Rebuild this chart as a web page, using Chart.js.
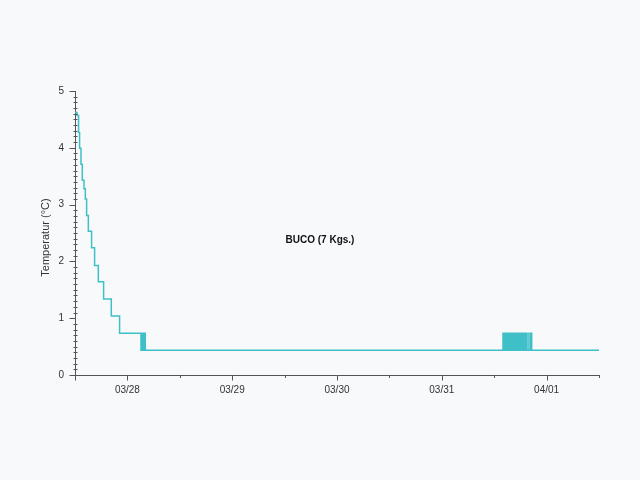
<!DOCTYPE html>
<html><head><meta charset="utf-8">
<script src="https://cdn.jsdelivr.net/npm/chart.js@4/dist/chart.umd.min.js"></script>
<style>html,body{margin:0;padding:0;background:#f8f9fa;}#wrap{width:640px;height:480px;}</style>
</head><body><div id="wrap"><canvas id="c" width="640" height="480"></canvas></div>
<script>
const chartTitle = 'BUCO (7 Kgs.)';
const yAxisTitle = 'Temperatur (°C)';
// x values: hours since 03/27 00:00
const dayTicks = [24, 48, 72, 96, 120];
const dayLabels = ['03/28', '03/29', '03/30', '03/31', '04/01'];
const halfDayTicks = [12, 36, 60, 84, 108, 132];
const yMajorTicks = [0, 1, 2, 3, 4, 5];

const times = [
  12.00, 12.46, 12.82, 13.05, 13.37, 13.67, 14.06, 14.36, 14.66, 15.05, 15.80, 16.49, 17.34, 18.55, 20.31, 22.21,
  27.11, 27.20, 27.30, 27.40, 27.50, 27.60, 27.70, 27.80, 27.90, 28.00, 28.10,
  110.01, 110.12, 110.20, 110.32, 110.40, 110.52, 110.60, 110.70, 110.93, 110.96, 111.18,
  111.35, 111.45, 111.60, 111.70, 111.85, 111.95, 112.10, 112.20, 112.35, 112.45, 112.60, 112.70,
  112.85, 112.95, 113.10, 113.20, 113.35, 113.45, 113.60, 113.70, 113.85, 113.95, 114.10, 114.20,
  114.35, 114.45, 114.60, 114.70, 114.85, 114.95, 115.10, 115.20, 115.34,
  115.73, 115.76, 116.19, 116.22, 116.56, 116.59, 132.00
];
const temps = [
  4.62, 4.57, 4.27, 3.99, 3.71, 3.43, 3.28, 3.10, 2.81, 2.53, 2.24, 1.93, 1.64, 1.34, 1.04, 0.735,
  0.435, 0.735, 0.435, 0.735, 0.435, 0.735, 0.435, 0.735, 0.435, 0.735, 0.435,
  0.735, 0.435, 0.735, 0.435, 0.735, 0.435, 0.735, 0.435, 0.735, 0.435, 0.735,
  0.435, 0.735, 0.435, 0.735, 0.435, 0.735, 0.435, 0.735, 0.435, 0.735, 0.435, 0.735,
  0.435, 0.735, 0.435, 0.735, 0.435, 0.735, 0.435, 0.735, 0.435, 0.735, 0.435, 0.735,
  0.435, 0.735, 0.435, 0.735, 0.435, 0.735, 0.435, 0.735, 0.435,
  0.735, 0.435, 0.735, 0.435, 0.735, 0.435, 0.435
];

const axisColor = '#555555';
const textColor = '#333333';

const tickPlugin = {
  id: 'customTicks',
  afterDraw(chart) {
    const ctx = chart.ctx;
    const xs = chart.scales.x, ys = chart.scales.y;
    const ax = Math.round(ys.right) + 0.5;
    const ay = Math.round(xs.top) + 0.5;
    ctx.save();
    ctx.strokeStyle = axisColor;
    ctx.lineWidth = 1;
    ctx.beginPath();
    for (let i = 0; i <= 50; i++) {
      const v = i / 10;
      const py = Math.round(ys.getPixelForValue(v)) + 0.5;
      if (i % 10 === 0) { ctx.moveTo(ax - 6, py); ctx.lineTo(ax, py); }
      else { ctx.moveTo(ax - 2, py); ctx.lineTo(ax + 2, py); }
    }
    dayTicks.forEach(v => {
      const px = Math.round(xs.getPixelForValue(v)) + 0.5;
      ctx.moveTo(px, ay); ctx.lineTo(px, ay + 5);
    });
    halfDayTicks.forEach((v, i) => {
      const px = Math.round(xs.getPixelForValue(v)) + 0.5;
      ctx.moveTo(px, ay); ctx.lineTo(px, ay + (i === 0 ? 5 : 2.5));
    });
    ctx.stroke();
    // chart title in middle
    ctx.fillStyle = '#111111';
    ctx.font = 'bold 10px "Liberation Sans", Arial, sans-serif';
    ctx.textAlign = 'center';
    ctx.textBaseline = 'middle';
    ctx.fillText(chartTitle, 320, 240);
    // y axis title
    ctx.font = '11px "Liberation Sans", Arial, sans-serif';
    ctx.fillStyle = textColor;
    ctx.translate(45.5, 237.5);
    ctx.rotate(-Math.PI / 2);
    ctx.fillText(yAxisTitle, 0, 0);
    ctx.restore();
  }
};

new Chart(document.getElementById('c'), {
  type: 'line',
  data: {
    datasets: [{
      data: times.map((t, i) => ({ x: t, y: temps[i] })),
      stepped: true,
      borderColor: '#3fc0c8',
      borderWidth: 1.5,
      pointRadius: 0,
      fill: false,
      tension: 0
    }]
  },
  options: {
    responsive: false,
    animation: false,
    layout: { padding: { left: 0, top: 91, right: 41, bottom: 0 } },
    plugins: { legend: { display: false }, title: { display: false }, tooltip: { enabled: false } },
    scales: {
      x: {
        type: 'linear', min: 12, max: 132,
        afterBuildTicks: s => { s.ticks = dayTicks.map(v => ({ value: v })); },
        afterFit: s => { s.height = 105; },
        grid: { display: false, drawTicks: true, tickLength: 5 },
        border: { display: true, color: axisColor, width: 1 },
        ticks: {
          autoSkip: false, maxRotation: 0, padding: 4,
          color: textColor, font: { size: 10, family: '"Liberation Sans", Arial, sans-serif' },
          callback: v => { const i = dayTicks.indexOf(v); return i >= 0 ? dayLabels[i] : ''; }
        }
      },
      y: {
        type: 'linear', min: 0, max: 5,
        afterBuildTicks: s => { s.ticks = yMajorTicks.map(v => ({ value: v })); },
        afterFit: s => { s.width = 75; },
        grid: { display: false, drawTicks: true, tickLength: 6 },
        border: { display: true, color: axisColor, width: 1 },
        ticks: {
          autoSkip: false, padding: 5,
          color: textColor, font: { size: 10, family: '"Liberation Sans", Arial, sans-serif' },
          callback: v => String(v)
        }
      }
    }
  },
  plugins: [tickPlugin]
});
</script>
</body></html>
